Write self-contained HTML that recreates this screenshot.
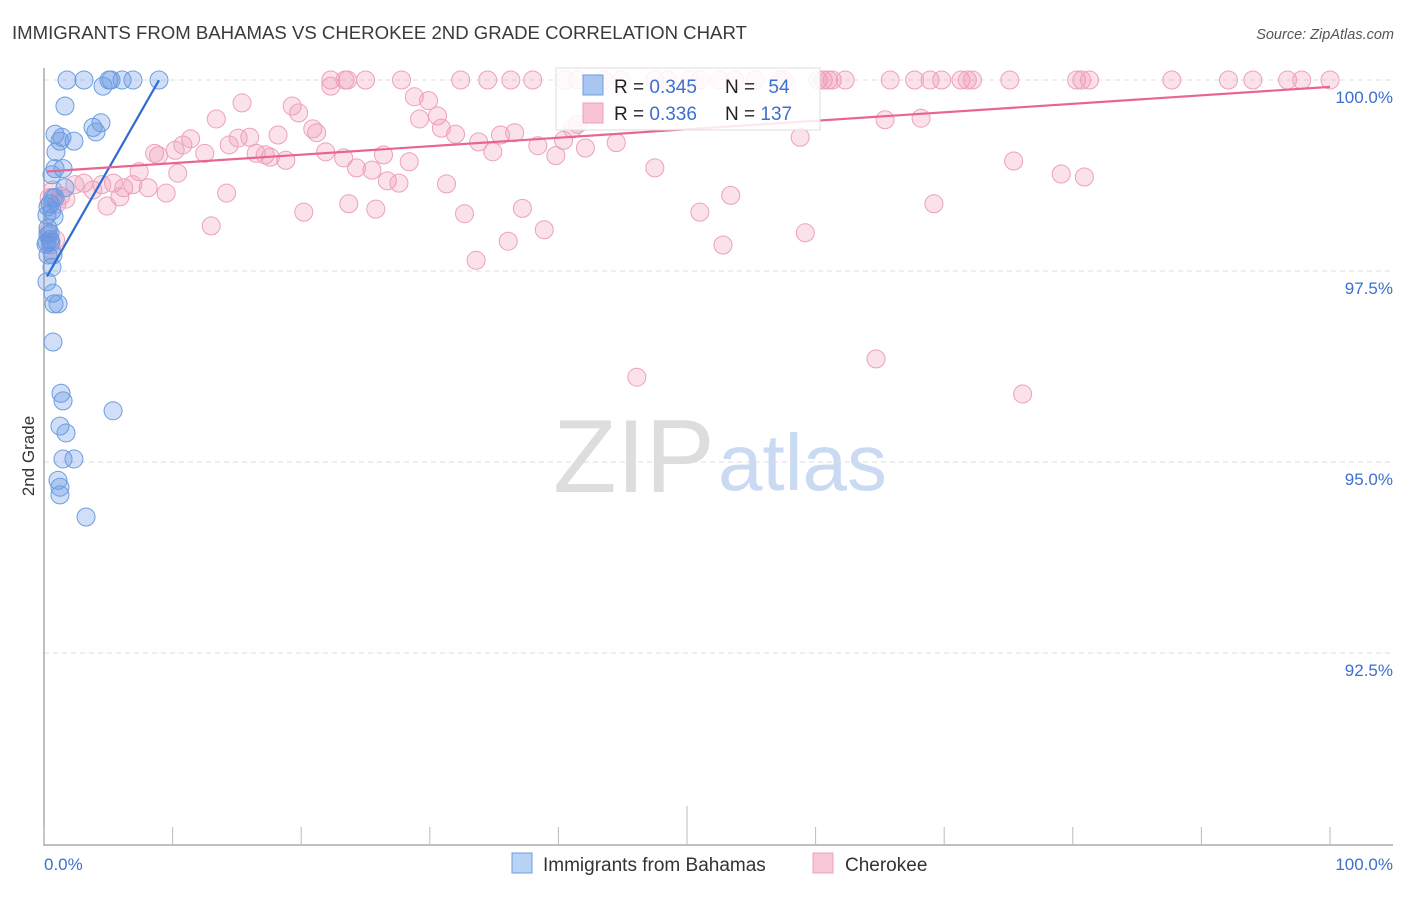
<!DOCTYPE html>
<html><head><meta charset="utf-8"><style>
body{margin:0;background:#fff;font-family:"Liberation Sans",sans-serif;}
svg text{font-family:"Liberation Sans",sans-serif;}
</style></head><body>
<svg id="chart" width="1406" height="892" xmlns="http://www.w3.org/2000/svg">
<text x="12" y="39" font-size="18.6" fill="#3a3a3a">IMMIGRANTS FROM BAHAMAS VS CHEROKEE 2ND GRADE CORRELATION CHART</text>
<text x="1394" y="39" font-size="14.5" fill="#555" text-anchor="end" font-style="italic">Source: ZipAtlas.com</text>
<text x="553" y="492" font-size="104" fill="#ddd" font-family="Liberation Serif,serif">ZIP</text>
<text x="718" y="490" font-size="80" fill="#c9daf2">atlas</text>
<text transform="translate(34,456) rotate(-90)" font-size="17" fill="#333" text-anchor="middle">2nd Grade</text>
<g id="grid"></g><g id="axes"></g><g id="pts"></g><g id="lines"></g>
<g>
<rect x="556" y="68" width="264" height="62" fill="#fff" fill-opacity="0.85" stroke="#ddd"/>
<rect x="583" y="75" width="20" height="20" fill="#a9c6f0" stroke="#6c9de0"/>
<rect x="583" y="103" width="20" height="20" fill="#f8c3d3" stroke="#eda1b8"/>
<text x="614" y="93" font-size="19" fill="#222">R = <tspan fill="#3b6fd0">0.345</tspan></text>
<text x="725" y="93" font-size="19" fill="#222">N = <tspan fill="#3b6fd0" dx="8">54</tspan></text>
<text x="614" y="120" font-size="19" fill="#222">R = <tspan fill="#3b6fd0">0.336</tspan></text>
<text x="725" y="120" font-size="19" fill="#222">N = <tspan fill="#3b6fd0">137</tspan></text>
</g>
<g>
<rect x="512" y="853" width="20" height="20" fill="#b8d3f5" stroke="#6c9de0"/>
<text x="543" y="871" font-size="19" fill="#333">Immigrants from Bahamas</text>
<rect x="813" y="853" width="20" height="20" fill="#f8c8d6" stroke="#eda1b8"/>
<text x="845" y="871" font-size="19" fill="#333">Cherokee</text>
</g>
</svg>
<script>
const blueX=[1.79,3.11,5.05,5.21,6.07,6.92,8.94,4.59,1.63,3.81,4.43,4.04,0.86,1.40,2.33,1.24,0.93,1.48,0.86,1.63,0.62,0.86,0.47,0.31,0.78,0.31,0.47,0.23,0.54,0.16,0.70,0.62,0.23,0.70,0.78,1.09,0.70,1.32,1.48,5.37,1.24,1.71,1.48,2.33,1.09,1.24,1.24,3.27,0.31,0.47,0.70,0.23,0.62,0.31];
const blueY=[100,100,100,100,100,100,100,99.92,99.66,99.38,99.44,99.32,99.29,99.25,99.20,99.20,99.06,98.84,98.84,98.59,98.76,98.46,98.38,98.34,98.21,98.06,97.91,97.88,97.88,97.85,97.71,97.55,97.36,97.21,97.07,97.07,96.57,95.90,95.80,95.67,95.47,95.38,95.04,95.04,94.76,94.67,94.57,94.28,97.71,97.99,98.46,98.23,98.29,97.97];
const pinkX=[22.3,23.4,23.6,25.0,27.8,32.4,34.5,36.3,38.0,40.5,41.5,43.5,44.9,47.5,48.5,50.2,51.0,52.5,53.7,55.3,57.2,57.5,60.2,60.6,61.0,61.3,62.3,65.8,67.7,68.9,69.8,71.3,71.8,72.2,75.1,80.3,80.7,81.3,87.7,92.1,94.0,96.7,97.8,100,22.3,
15.4,28.8,29.9,19.3,19.8,13.4,29.2,30.6,20.9,21.2,30.9,32.0,35.5,36.6,33.8,40.4,44.5,11.4,10.8,10.2,8.6,8.9,12.5,14.4,15.1,18.2,16.0,16.5,17.2,17.6,18.8,21.9,23.3,26.4,28.4,34.9,38.4,39.8,42.1,58.8,65.4,68.2,75.4,47.5,24.3,25.5,10.4,7.4,5.4,4.5,3.1,2.4,3.8,6.2,6.9,8.1,9.5,14.2,5.9,4.9,1.7,1.0,1.3,26.7,27.6,31.3,20.2,23.7,25.8,37.2,32.7,51.0,53.4,69.2,79.1,80.9,13.0,36.1,38.9,52.8,59.2,33.6,46.1,64.7,76.1,41.5,41.1,0.3,0.5,0.6,0.9,0.4,0.7];
const pinkY=[100,100,100,100,100,100,100,100,100,100,100,100,100,100,100,100,100,100,100,100,100,100,100,100,100,100,100,100,100,100,100,100,100,100,100,100,100,100,100,100,100,100,100,100,99.92,
99.70,99.78,99.73,99.66,99.57,99.49,99.49,99.53,99.36,99.31,99.37,99.29,99.28,99.31,99.19,99.21,99.18,99.23,99.15,99.08,99.04,99.01,99.04,99.15,99.24,99.28,99.25,99.04,99.02,98.99,98.95,99.06,98.98,99.02,98.93,99.06,99.14,99.01,99.11,99.25,99.48,99.50,98.94,98.85,98.85,98.82,98.78,98.80,98.65,98.63,98.65,98.63,98.56,98.59,98.63,98.59,98.52,98.52,98.47,98.35,98.44,98.38,98.48,98.68,98.65,98.64,98.27,98.38,98.31,98.32,98.25,98.27,98.49,98.38,98.77,98.73,98.09,97.89,98.04,97.84,98.00,97.64,96.11,96.35,95.89,99.42,99.36,98.01,97.84,97.77,97.91,98.46,98.56];
const yTicks=[100,97.5,95,92.5];
const yTickLabels=["100.0%","97.5%","95.0%","92.5%"];
const xTickLabels=["0.0%","100.0%"];
const blueFit=[97.36,0.295,0.23,8.94];
const pinkFit=[98.80,0.0111,0.23,100];
const NS="http://www.w3.org/2000/svg";
const sx=v=>44+v*12.86;
const sy=v=>80+(100-v)*76.4;
function mk(p,t,a){const e=document.createElementNS(NS,t);for(const k in a)e.setAttribute(k,a[k]);p.appendChild(e);return e;}
const grid=document.getElementById('grid'),axes=document.getElementById('axes'),pts=document.getElementById('pts'),lines=document.getElementById('lines');
yTicks.forEach((t,i)=>{
 const l=mk(grid,'line',{x1:44,x2:1393,y1:sy(t),y2:sy(t),stroke:'#ddd','stroke-dasharray':'5,4'});
 
 
 const tx=mk(axes,'text',{x:1393,y:sy(t)+23,'font-size':17,fill:'#3b6fd0','text-anchor':'end'});
 tx.textContent=yTickLabels[i];
 
 
});
const ax=mk(axes,'line',{x1:44,x2:44,y1:68,y2:846,stroke:'#aaa','stroke-width':1.5});


const bx=mk(axes,'line',{x1:44,x2:1393,y1:845,y2:845,stroke:'#aaa','stroke-width':1.5});


for(let i=0;i<=10;i++){
 const x=sx(i*10);
 const tk=mk(axes,'line',{x1:x,x2:x,y1:i==5?806:827,y2:845,stroke:'#bbb'});
 
 
}
[[0,'start'],[100,'end']].forEach((p,i)=>{
 const tx=mk(axes,'text',{x:i?1393:44,y:870,'font-size':17,fill:'#3b6fd0','text-anchor':p[1]});
 tx.textContent=xTickLabels[i];
 
 
});
pinkX.forEach((x,i)=>{
 const c=mk(pts,'circle',{cx:sx(x),cy:sy(pinkY[i]),r:9,fill:'rgba(242,150,180,0.28)',stroke:'#eda1b8','stroke-width':1});
 
 
});
blueX.forEach((x,i)=>{
 const c=mk(pts,'circle',{cx:sx(x),cy:sy(blueY[i]),r:9,fill:'rgba(100,150,230,0.3)',stroke:'#6c9de0','stroke-width':1});
 
 
});
const bl=mk(lines,'line',{x1:sx(blueFit[2]),y1:sy(blueFit[0]+blueFit[1]*blueFit[2]),x2:sx(blueFit[3]),y2:sy(blueFit[0]+blueFit[1]*blueFit[3]),stroke:'#2f6bd3','stroke-width':2.2});


const pl=mk(lines,'line',{x1:sx(pinkFit[2]),y1:sy(pinkFit[0]+pinkFit[1]*pinkFit[2]),x2:sx(pinkFit[3]),y2:sy(pinkFit[0]+pinkFit[1]*pinkFit[3]),stroke:'#e8658f','stroke-width':2.2});


</script>
</body></html>
